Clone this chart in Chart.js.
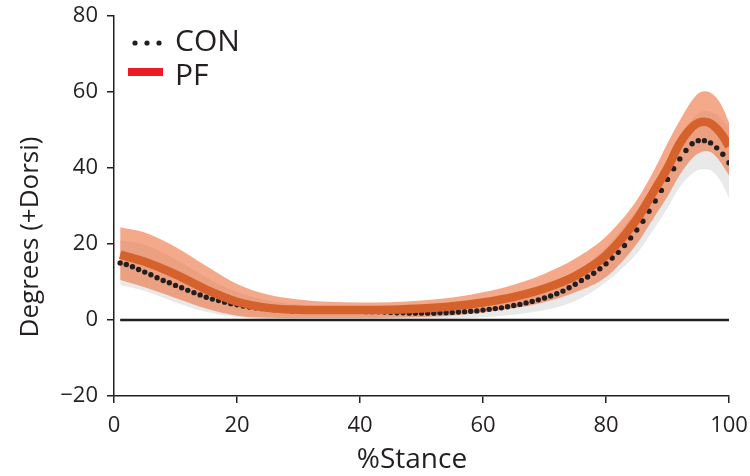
<!DOCTYPE html>
<html>
<head>
<meta charset="utf-8">
<script src="https://cdn.jsdelivr.net/npm/chart.js@4/dist/chart.umd.min.js"></script>
<style>
  html, body { margin: 0; padding: 0; background: #fff; }
  #wrap { width: 750px; height: 476px; }
</style>
</head>
<body>
<div id="wrap"><canvas id="ankleChart" width="750" height="476"></canvas></div>
<script>
/* ankle angle over stance: CON (dots, grey SD) vs PF (line, salmon SD) */
const INK = '#231f20';
const FONT = "'Open Sans', sans-serif";

const xTicks = [0, 20, 40, 60, 80, 100];
const yTicks = [-20, 0, 20, 40, 60, 80];
const legendLabels = ['CON', 'PF'];
const xTitle = '%Stance';
const yTitle = 'Degrees (+Dorsi)';

// CON mean, one dot per % stance
const conX = [1, 2, 3, 4, 5, 6, 7, 8, 9, 10, 11, 12, 13, 14, 15, 16, 17, 18, 19, 20,
  21, 22, 23, 24, 25, 26, 27, 28, 29, 30, 31, 32, 33, 34, 35, 36, 37, 38, 39, 40,
  41, 42, 43, 44, 45, 46, 47, 48, 49, 50, 51, 52, 53, 54, 55, 56, 57, 58, 59, 60,
  61, 62, 63, 64, 65, 66, 67, 68, 69, 70, 71, 72, 73, 74, 75, 76, 77, 78, 79, 80,
  81, 82, 83, 84, 85, 86, 87, 88, 89, 90, 91, 92, 93, 94, 95, 96, 97, 98, 99, 100];
const conMean = [15.0, 14.6, 14.0, 13.3, 12.6, 11.9, 11.1, 10.4, 9.8, 9.1,
  8.5, 7.8, 7.2, 6.6, 6.0, 5.5, 5.1, 4.7, 4.3, 4.0,
  3.7, 3.4, 3.2, 3.0, 2.8, 2.7, 2.6, 2.5, 2.4, 2.4,
  2.4, 2.3, 2.3, 2.3, 2.3, 2.3, 2.3, 2.3, 2.3, 2.3,
  2.2, 2.2, 2.2, 2.1, 2.0, 1.9, 1.9, 1.8, 1.8, 1.8,
  1.8, 1.8, 1.9, 1.9, 2.0, 2.1, 2.2, 2.3, 2.4, 2.6,
  2.8, 3.0, 3.2, 3.5, 3.8, 4.1, 4.5, 4.9, 5.3, 5.8,
  6.3, 6.9, 7.6, 8.5, 9.4, 10.4, 11.3, 12.3, 13.5, 14.8,
  16.3, 17.8, 19.6, 21.6, 23.7, 26.0, 28.6, 31.3, 34.1, 37.0,
  39.8, 42.4, 44.6, 46.4, 47.2, 47.2, 46.6, 45.3, 43.6, 41.4];

// sampled stance points for PF line and both SD bands
const bandX = [1, 5, 10, 15, 20, 25, 30, 35, 40, 45, 50, 55, 60, 65, 70, 75, 80, 85, 88, 90, 92, 94, 95, 96, 97, 98, 99, 100];
const pfMean = [17.2, 15.3, 12.0, 8.0, 4.8, 3.2, 2.7, 2.6, 2.6, 2.7, 3.0, 3.6, 4.6, 6.1, 8.3, 11.6, 17.0, 26.5, 34.5, 40.0, 46.5, 50.8, 51.9, 52.2, 51.7, 50.4, 48.4, 45.7];
const pfUpper = [24.4, 23.0, 19.2, 14.2, 9.5, 6.7, 5.4, 4.8, 4.6, 4.7, 5.1, 5.9, 7.3, 9.3, 12.2, 16.2, 22.0, 31.5, 40.0, 46.5, 52.5, 57.8, 59.6, 60.2, 59.8, 58.4, 55.8, 52.0];
const pfLower = [10.5, 8.6, 5.8, 3.0, 1.1, 0.6, 0.5, 0.5, 0.5, 0.6, 0.8, 1.2, 2.0, 3.1, 4.7, 7.3, 11.3, 20.0, 27.5, 32.5, 38.2, 42.5, 43.8, 44.4, 44.2, 42.8, 40.6, 38.0];
const conUpper = [21.0, 19.8, 16.0, 11.2, 7.4, 5.2, 4.1, 3.6, 3.4, 3.4, 3.5, 3.9, 4.6, 5.9, 8.1, 12.4, 19.2, 29.0, 36.5, 42.5, 48.0, 52.8, 54.4, 55.0, 54.8, 54.0, 52.5, 50.7];
const conLower = [9.2, 7.6, 4.6, 2.1, 0.8, 0.2, 0.0, -0.1, 0.0, 0.0, 0.1, 0.3, 0.7, 1.4, 2.6, 5.0, 10.0, 17.5, 24.5, 29.5, 35.0, 38.5, 39.5, 39.7, 39.4, 38.0, 35.5, 32.0];

const zeroX = [1, 100];
const zeroY = [0, 0];

function pts(xs, ys) {
  return xs.map(function (x, i) { return { x: x, y: ys[i] }; });
}

const hidden = { borderWidth: 0, borderColor: 'rgba(0,0,0,0)', pointRadius: 0, cubicInterpolationMode: 'monotone' };

// titles + inset legend drawn after the chart
const decorPlugin = {
  id: 'decor',
  afterDraw: function (chart) {
    const ctx = chart.ctx;
    ctx.save();
    ctx.fillStyle = INK;
    ctx.textBaseline = 'middle';

    ctx.font = '28px ' + FONT;
    ctx.textAlign = 'center';
    ctx.fillText(xTitle, 412, 460);

    ctx.font = '26px ' + FONT;
    ctx.save();
    ctx.translate(31, 237);
    ctx.rotate(-Math.PI / 2);
    ctx.fillText(yTitle, 0, 0);
    ctx.restore();

    // legend
    ctx.font = '30px ' + FONT;
    ctx.textAlign = 'left';
    [135, 147, 159].forEach(function (cx) {
      ctx.beginPath();
      ctx.arc(cx, 43, 2.6, 0, Math.PI * 2);
      ctx.fill();
    });
    ctx.fillText(legendLabels[0], 175, 42);
    ctx.fillStyle = '#ed1c24';
    ctx.fillRect(128, 68, 35, 8);
    ctx.fillStyle = INK;
    ctx.fillText(legendLabels[1], 175, 76);
    ctx.restore();
  }
};

new Chart(document.getElementById('ankleChart'), {
  type: 'line',
  data: {
    datasets: [
      Object.assign({ data: pts(bandX, conUpper), order: 7, fill: false }, hidden),
      Object.assign({ data: pts(bandX, conLower), order: 6, fill: '-1', backgroundColor: '#e9e9e9' }, hidden),
      Object.assign({ data: pts(bandX, pfUpper), order: 5, fill: false }, hidden),
      Object.assign({ data: pts(bandX, pfLower), order: 4, fill: '-1', backgroundColor: 'rgba(238,112,62,0.6)' }, hidden),
      { data: pts(zeroX, zeroY), order: 3, borderColor: INK, borderWidth: 2.5, pointRadius: 0, fill: false },
      { data: pts(conX, conMean), order: 2, showLine: false, pointRadius: 2.7, pointHoverRadius: 2.7,
        pointBackgroundColor: INK, pointBorderWidth: 0, fill: false },
      { data: pts(bandX, pfMean), order: 1, borderColor: '#d5622d', borderWidth: 8.5, pointRadius: 0,
        cubicInterpolationMode: 'monotone', fill: false }
    ]
  },
  options: {
    responsive: false,
    devicePixelRatio: 1,
    animation: false,
    layout: { padding: { left: 0, right: 21, top: 16, bottom: 0 } },
    plugins: { legend: { display: false }, tooltip: { enabled: false } },
    scales: {
      x: {
        type: 'linear', min: 0, max: 100,
        afterBuildTicks: function (s) { s.ticks = xTicks.map(function (v) { return { value: v }; }); },
        afterFit: function (s) { s.height = 80; s.paddingLeft = 0; s.paddingRight = 0; },
        ticks: { color: INK, font: { family: FONT, size: 22 }, padding: 10, maxRotation: 0 },
        grid: { display: true, drawOnChartArea: false, drawTicks: true, tickLength: 7, color: INK, lineWidth: 1.5 },
        border: { display: true, color: INK, width: 1.5 }
      },
      y: {
        min: -20, max: 80,
        afterBuildTicks: function (s) { s.ticks = yTicks.map(function (v) { return { value: v }; }); },
        afterFit: function (s) { s.width = 114; s.paddingTop = 0; s.paddingBottom = 0; },
        ticks: {
          color: INK, font: { family: FONT, size: 22 }, padding: 9,
          callback: function (v) { return v < 0 ? '\u2212' + Math.abs(v) : String(v); }
        },
        grid: { display: true, drawOnChartArea: false, drawTicks: true, tickLength: 7, color: INK, lineWidth: 1.5 },
        border: { display: true, color: INK, width: 1.5 }
      }
    }
  },
  plugins: [decorPlugin]
});
</script>
</body>
</html>
